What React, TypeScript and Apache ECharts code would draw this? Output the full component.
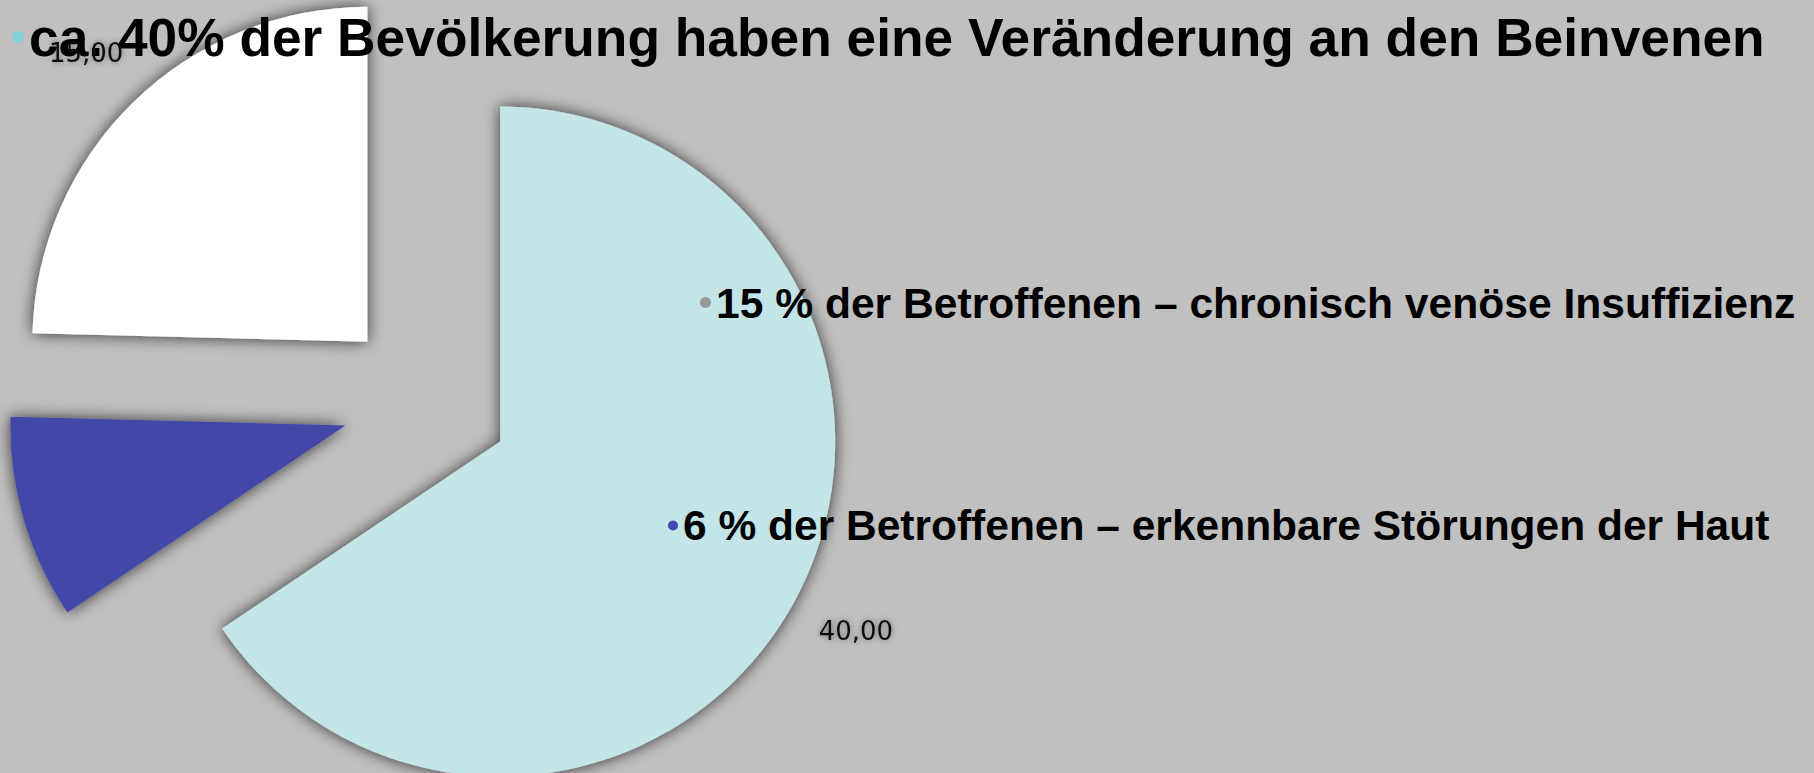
import React, { useEffect, useRef } from "react";
import * as echarts from "echarts";

const sliceNames = [
  "ca. 40% der Bevölkerung haben eine Veränderung an den Beinvenen",
  "6 % der Betroffenen – erkennbare Störungen der Haut",
  "15 % der Betroffenen – chronisch venöse Insuffizienz",
];
const sliceValues = [40, 6, 15];
const sliceColors = ["#c3e5e8", "#4347a8", "#ffffff"];
// the value label of the small slice falls outside the picture in the reference
const sliceLabelVisible = [true, false, true];

const legendNames = [
  "ca. 40% der Bevölkerung haben eine Veränderung an den Beinvenen",
  "15 % der Betroffenen – chronisch venöse Insuffizienz",
  "6 % der Betroffenen – erkennbare Störungen der Haut",
];
const legendMarkerColors = ["#85cfd9", "#999999", "#4347b0"];

export default function App() {
  const ref = useRef<HTMLDivElement>(null);
  useEffect(() => {
    if (!ref.current) return;
    const chart = echarts.init(ref.current, undefined, { renderer: "svg" });
    const center = [426, 402];
    const legendLayouts = [
      { left: 12, top: 10, size: 12, fontSize: 53.3, lh: 54 },
      { left: 700, top: 281, size: 11, fontSize: 42.6, lh: 42 },
      { left: 668, top: 504, size: 10, fontSize: 42.5, lh: 42 },
    ];
    chart.setOption({
      animation: false,
      backgroundColor: "#c0c0c0",
      legend: legendNames.map((n, i) => ({
        data: [{ name: n, itemStyle: { color: legendMarkerColors[i] } }],
        left: legendLayouts[i].left,
        top: legendLayouts[i].top,
        icon: "circle",
        itemWidth: legendLayouts[i].size,
        itemHeight: legendLayouts[i].size,
        padding: 0,
        selectedMode: false,
        z: 6,
        textStyle: {
          fontFamily: "Liberation Sans, Arial, sans-serif",
          fontWeight: "bold",
          fontSize: legendLayouts[i].fontSize,
          lineHeight: legendLayouts[i].lh,
          color: "#000",
        },
      })),
      series: [
        {
          type: "pie",
          center,
          radius: 335,
          startAngle: 90,
          clockwise: true,
          selectedMode: "multiple",
          selectedOffset: 84,
          avoidLabelOverlap: false,
          label: { show: false },
          labelLine: { show: false },
          emphasis: { disabled: true },
          itemStyle: {
            shadowBlur: 16,
            shadowColor: "rgba(0,0,0,0.75)",
            shadowOffsetX: 0,
            shadowOffsetY: 0,
          },
          data: sliceNames.map((n, i) => ({
            name: n,
            value: sliceValues[i],
            selected: true,
            itemStyle: { color: sliceColors[i] },
          })),
        },
        {
          type: "pie",
          center,
          radius: 800,
          startAngle: 90,
          clockwise: true,
          selectedMode: "multiple",
          selectedOffset: 84,
          avoidLabelOverlap: false,
          silent: true,
          z: 8,
          emphasis: { disabled: true },
          itemStyle: { color: "rgba(0,0,0,0)" },
          labelLine: { show: false },
          label: {
            show: true,
            position: "inside",
            formatter: (p: any) => Number(p.value).toFixed(2).replace(".", ","),
            fontFamily: "DejaVu Sans, sans-serif",
            fontSize: 26,
            color: "#111",
            textBorderWidth: 0,
            textShadowColor: "rgba(0,0,0,0.45)",
            textShadowBlur: 6,
          },
          data: sliceNames.map((n, i) => ({
            name: n,
            value: sliceValues[i],
            selected: true,
            label: { show: sliceLabelVisible[i] },
          })),
        },
      ],
    });
    return () => chart.dispose();
  }, []);
  return (
    <div
      ref={ref}
      style={{ position: "fixed", left: 0, top: 0, width: 1814, height: 773 }}
    />
  );
}
